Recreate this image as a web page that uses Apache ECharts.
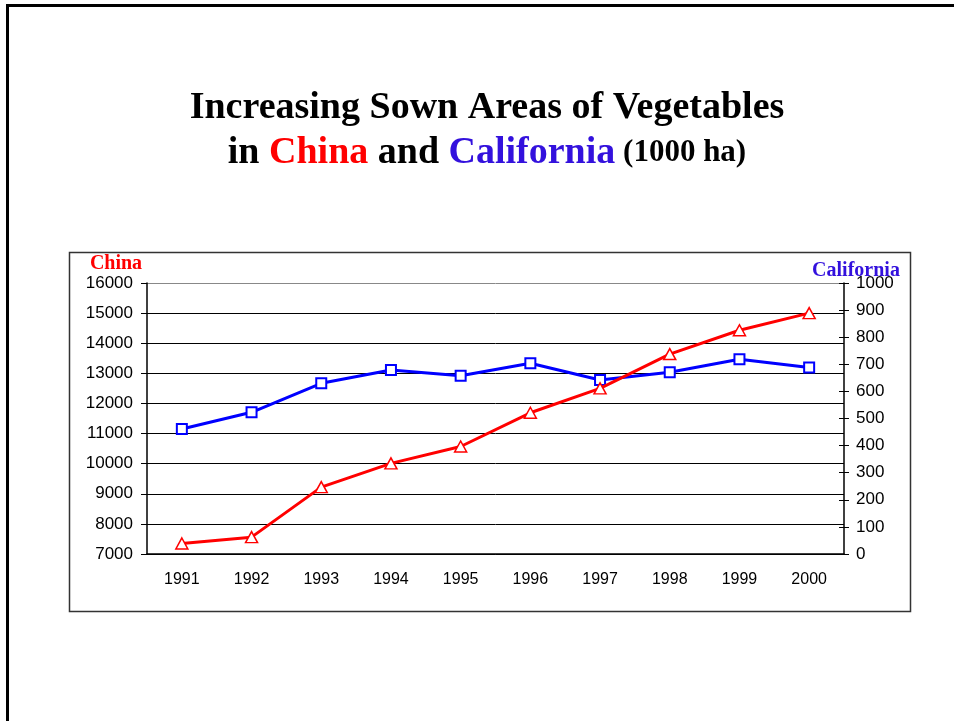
<!DOCTYPE html>
<html>
<head>
<meta charset="utf-8">
<title>Increasing Sown Areas of Vegetables</title>
<script src="https://cdn.jsdelivr.net/npm/echarts@6.0.0/dist/echarts.min.js"></script>
<style>
	html, body { margin: 0; padding: 0; background: #fff; }
	#chart { width: 954px; height: 721px; }
</style>
</head>
<body>
<div id="chart"></div>
<script>
// data (1000 ha)
const years = ["1991", "1992", "1993", "1994", "1995", "1996", "1997", "1998", "1999", "2000"];
const chinaArea = [7350, 7560, 9220, 10010, 10570, 11690, 12500, 13640, 14430, 15000];
const californiaArea = [461, 523, 630, 679, 658, 704, 642, 671, 719, 688];

// axis ranges: min, max, step
const chinaAxis = [7000, 16000, 1000];
const californiaAxis = [0, 1000, 100];

const labelFont = "Liberation Sans, Arial, sans-serif";
const titleFont = "Liberation Serif, Times New Roman, serif";

const chart = echarts.init(document.getElementById("chart"));

// top gridline is a lighter grey in the original
const gridColors = ["#000", "#000", "#000", "#000", "#000", "#000", "#000", "#000", "#000", "#888"];

// no thousands separators on the tick labels
const plainNumber = (value) => String(value);

const option = {
	animation: false,
	backgroundColor: "#fff",

	grid: {
		left: 147,
		right: 110,
		top: 283,
		bottom: 167
	},

	graphic: [
		// slide frame (cut off on right and bottom)
		{
			type: "rect",
			silent: true,
			shape: { x: 7.5, y: 5.5, width: 1000, height: 800 },
			style: { fill: "none", stroke: "#000", lineWidth: 3 }
		},
		// chart box
		{
			type: "rect",
			silent: true,
			shape: { x: 69.5, y: 252.5, width: 841, height: 359 },
			style: { fill: "none", stroke: "#333", lineWidth: 1.5 }
		},
		{
			type: "text",
			x: 487,
			y: 108,
			style: {
				text: "Increasing Sown Areas of Vegetables",
				font: "bold 38px " + titleFont,
				fill: "#000",
				textAlign: "center",
				textVerticalAlign: "middle"
			}
		},
		{
			type: "text",
			x: 487,
			y: 153,
			style: {
				text: "{b|in }{r|China}{b| and }{u|California}{s| (1000 ha)}",
				textAlign: "center",
				textVerticalAlign: "middle",
				rich: {
					b: { font: "bold 38px " + titleFont, fill: "#000" },
					r: { font: "bold 38px " + titleFont, fill: "#ff0000" },
					u: { font: "bold 38px " + titleFont, fill: "#3311dd" },
					s: { font: "bold 31px " + titleFont, fill: "#000" }
				}
			}
		},
		{
			type: "text",
			x: 116,
			y: 264,
			style: {
				text: "China",
				font: "bold 20px " + titleFont,
				fill: "#ff0000",
				textAlign: "center",
				textVerticalAlign: "middle"
			}
		},
		{
			type: "text",
			z: 10,
			x: 856,
			y: 271,
			style: {
				text: "California",
				font: "bold 20px " + titleFont,
				fill: "#3311dd",
				textAlign: "center",
				textVerticalAlign: "middle"
			}
		}
	],

	xAxis: {
		type: "category",
		data: years,
		boundaryGap: true,
		axisLine: { lineStyle: { color: "#000", width: 1.5 } },
		axisTick: { length: 6, lineStyle: { color: "#000" } },
		axisLabel: {
			margin: 18,
			color: "#000",
			fontFamily: labelFont,
			fontSize: 16
		},
		splitLine: { show: false }
	},

	yAxis: [
		{
			type: "value",
			position: "left",
			min: chinaAxis[0],
			max: chinaAxis[1],
			interval: chinaAxis[2],
			axisLine: { show: true, lineStyle: { color: "#000", width: 1.5 } },
			axisTick: { show: true, length: 6, lineStyle: { color: "#000" } },
			axisLabel: {
				margin: 14,
				color: "#000",
				fontFamily: labelFont,
				fontSize: 17,
				formatter: plainNumber
			},
			splitLine: { show: true, lineStyle: { color: gridColors, width: 1 } }
		},
		{
			type: "value",
			position: "right",
			min: californiaAxis[0],
			max: californiaAxis[1],
			interval: californiaAxis[2],
			axisLine: { show: true, lineStyle: { color: "#000", width: 1.5 } },
			axisTick: { show: true, length: 5, lineStyle: { color: "#000" } },
			axisLabel: {
				margin: 12,
				color: "#000",
				fontFamily: labelFont,
				fontSize: 17,
				formatter: plainNumber
			},
			splitLine: { show: false }
		},
		{
			// inner half of the crossing ticks on the right axis
			type: "value",
			position: "right",
			min: californiaAxis[0],
			max: californiaAxis[1],
			interval: californiaAxis[2],
			axisLine: { show: false },
			axisTick: { show: true, inside: true, length: 5, lineStyle: { color: "#000" } },
			axisLabel: { show: false },
			splitLine: { show: false }
		}
	],

	series: [
		{
			name: "China",
			type: "line",
			yAxisIndex: 0,
			data: chinaArea,
			symbol: "triangle",
			symbolSize: [12, 11],
			showSymbol: true,
			lineStyle: { color: "#ff0000", width: 3 },
			itemStyle: { color: "#fff", borderColor: "#ff0000", borderWidth: 1.5 },
			z: 3
		},
		{
			name: "California",
			type: "line",
			yAxisIndex: 1,
			data: californiaArea,
			symbol: "rect",
			symbolSize: 10,
			showSymbol: true,
			lineStyle: { color: "#0000ff", width: 3 },
			itemStyle: { color: "#fff", borderColor: "#0000ff", borderWidth: 2 },
			z: 2
		}
	]
};

option && chart.setOption(option);
</script>
</body>
</html>
